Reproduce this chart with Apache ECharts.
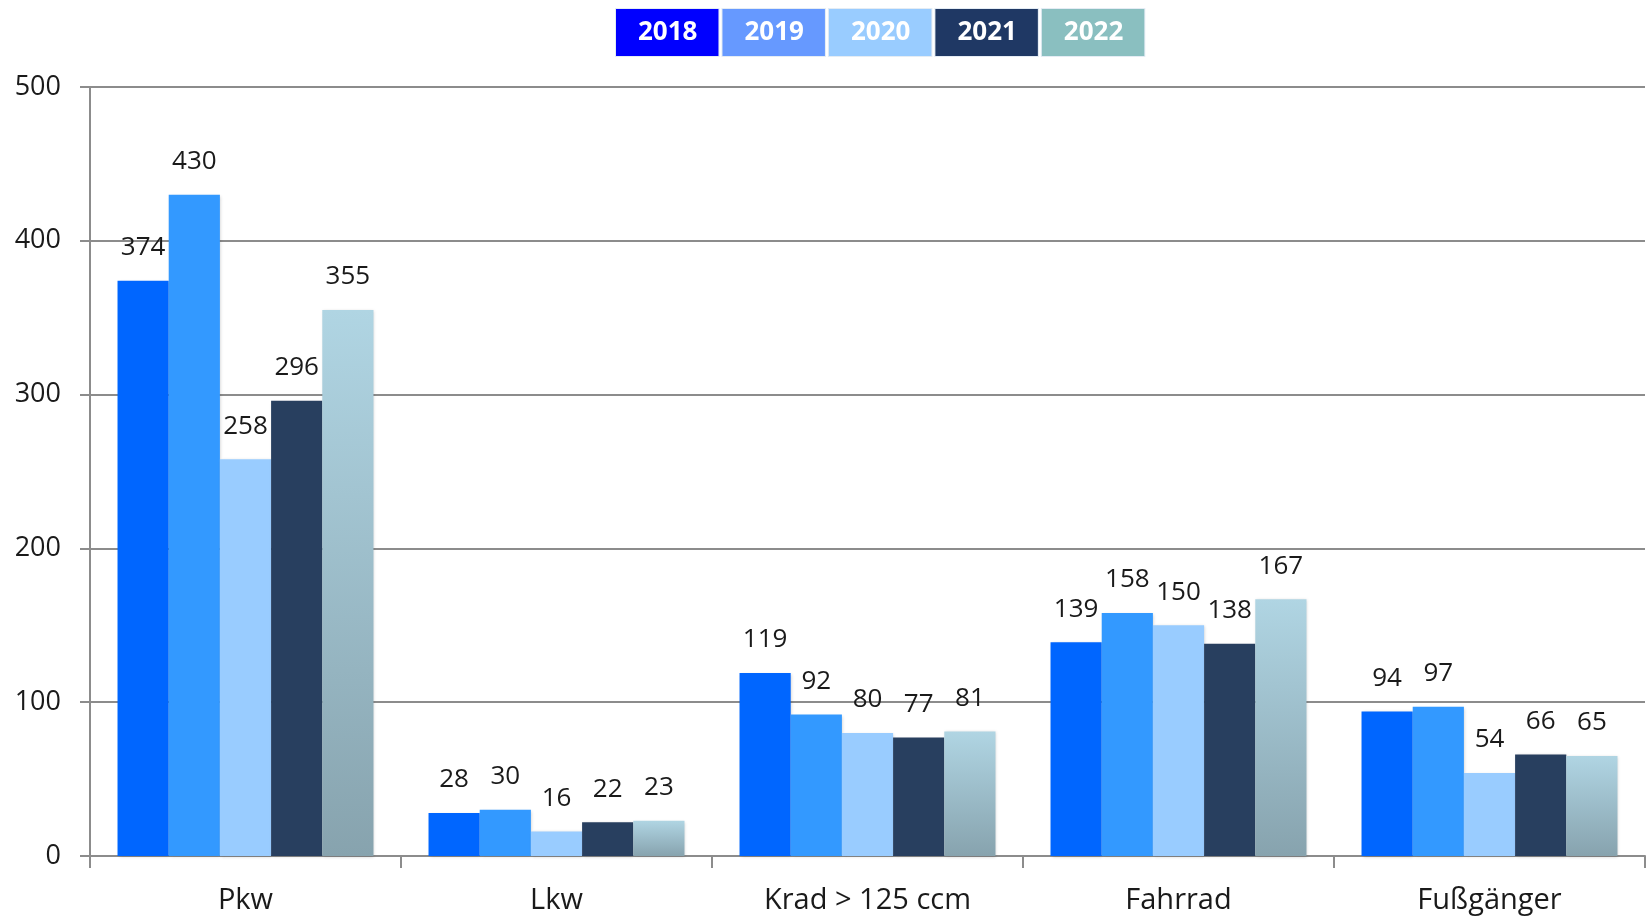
<!DOCTYPE html>
<html>
<head>
<meta charset="utf-8">
<script src="https://cdn.jsdelivr.net/npm/echarts@6/dist/echarts.min.js"></script>
<style>
  html, body { margin: 0; padding: 0; background: #fff; }
  #chart { width: 1651px; height: 922px; }
</style>
</head>
<body>
<div id="chart"></div>
<script>
// Kategorien und Werte je Jahr
const categories = ['Pkw', 'Lkw', 'Krad > 125 ccm', 'Fahrrad', 'Fußgänger']
const years = ['2018', '2019', '2020', '2021', '2022']
const v2018 = [374, 28, 119, 139, 94]
const v2019 = [430, 30, 92, 158, 97]
const v2020 = [258, 16, 80, 150, 54]
const v2021 = [296, 22, 77, 138, 66]
const v2022 = [355, 23, 81, 167, 65]
const yTicks = [0, 100, 200, 300, 400, 500]

const values = [v2018, v2019, v2020, v2021, v2022]
const barColors = [
  '#0066ff',
  '#3399ff',
  '#99ccff',
  '#283f5f',
  new echarts.graphic.LinearGradient(0, 0, 0, 1, [
    { offset: 0, color: '#b0d5e3' },
    { offset: 1, color: '#87a3ae' }
  ])
]
const legendColors = ['#0000ff', '#6699ff', '#99ccff', '#1f3864', '#8abfc0']

const font = '"Open Sans", Lato, sans-serif'

const chart = echarts.init(document.getElementById('chart'))

const option = {
  animation: false,
  textStyle: { fontFamily: font },
  legend: {
    top: 3,
    left: 606,
    itemGap: -2,
    itemWidth: 0,
    itemHeight: 0,
    selectedMode: false,
    data: years.map((y, i) => ({
      name: y,
      icon: 'rect',
      textStyle: {
        color: '#fff',
        fontWeight: 'bold',
        fontSize: 26,
        fontFamily: font,
        backgroundColor: legendColors[i],
        borderColor: '#e4ecf4',
        borderWidth: 1,
        padding: [0, 21, 0, 22],
        height: 47,
        lineHeight: 47
      }
    }))
  },
  grid: {
    left: 90,
    right: 6,
    top: 87,
    bottom: 66,
    containLabel: false
  },
  xAxis: {
    type: 'category',
    data: categories,
    axisLine: { show: true, lineStyle: { color: '#8c8c8c', width: 2 } },
    axisTick: { show: true, length: 12, lineStyle: { color: '#8c8c8c', width: 2 } },
    axisLabel: { color: '#1a1a1a', fontSize: 29, margin: 30, fontFamily: font }
  },
  yAxis: {
    type: 'value',
    min: yTicks[0],
    max: yTicks[yTicks.length - 1],
    interval: 100,
    axisLine: { show: true, lineStyle: { color: '#8c8c8c', width: 2 } },
    axisTick: { show: true, inside: false, length: 10, lineStyle: { color: '#8c8c8c', width: 2 } },
    axisLabel: { color: '#1a1a1a', fontSize: 27, margin: 29, fontFamily: font },
    splitLine: { show: true, lineStyle: { color: '#8c8c8c', width: 2 } }
  },
  series: years.map((y, i) => ({
    name: y,
    type: 'bar',
    data: values[i],
    barGap: '0%',
    barCategoryGap: '17.7%',
    itemStyle: {
      color: barColors[i],
      shadowColor: 'rgba(0,0,0,0.18)',
      shadowBlur: 3,
      shadowOffsetX: 1,
      shadowOffsetY: 1
    },
    label: {
      show: true,
      position: 'top',
      distance: 20,
      color: '#1a1a1a',
      fontSize: 26,
      fontFamily: font
    }
  }))
}

chart.setOption(option)
</script>
</body>
</html>
